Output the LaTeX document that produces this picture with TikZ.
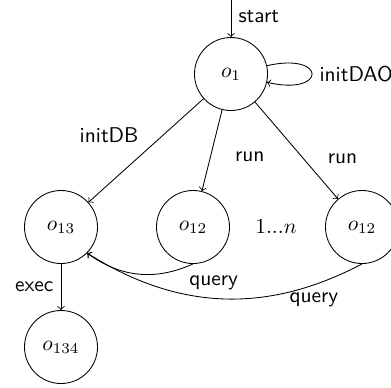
\documentclass[tikz,border=0pt]{standalone}
\begin{document}
\begin{tikzpicture}[x=0.01644cm,y=-0.01644cm]

\tikzstyle{etat} = [draw, circle, minimum size=1.2cm, inner sep=0pt];
\tikzstyle{lbl} = [font=\sffamily];

\useasboundingbox (0,0) rectangle (391,387);

%etats:
\node[etat] (o1) at (231,74) {$o_1$};
\node[etat] (o13) at (61,227) {$o_{13}$};
\node[etat] (o12a) at (193,227) {$o_{12}$};
\node[etat] (o12b) at (362,227) {$o_{12}$};
\node[etat] (o134) at (61,347) {$o_{134}$};
\node (dots) at (276,227) {$1...n$};
\coordinate (entree) at (231,0);

%transitions:
\draw[->] (entree) -- (o1) node[lbl,pos=0.45,right]{start};
\draw[->] (o1) to[out=13,in=-13,looseness=9.5] node[lbl,right]{initDAO} (o1);
\draw[->] (o1) -- (o13) node[lbl,midway,above left]{initDB};
\draw[->] (o1) -- (o12a) node[lbl,pos=0.58,right,xshift=8pt]{run};
\draw[->] (o1) -- (o12b) node[lbl,pos=0.58,right,xshift=8pt]{run};
\draw[->] (o13) -- (o134) node[lbl,midway,left]{exec};

%retours:
\draw[->] (o12a.south) to[bend left=30] node[lbl,pos=0.1,below right]{query} (o13.south east);
\draw[->] (o12b.south) to[bend left=30] node[lbl,pos=0.17,below]{query} (o13.south east);

\end{tikzpicture}
\end{document}
